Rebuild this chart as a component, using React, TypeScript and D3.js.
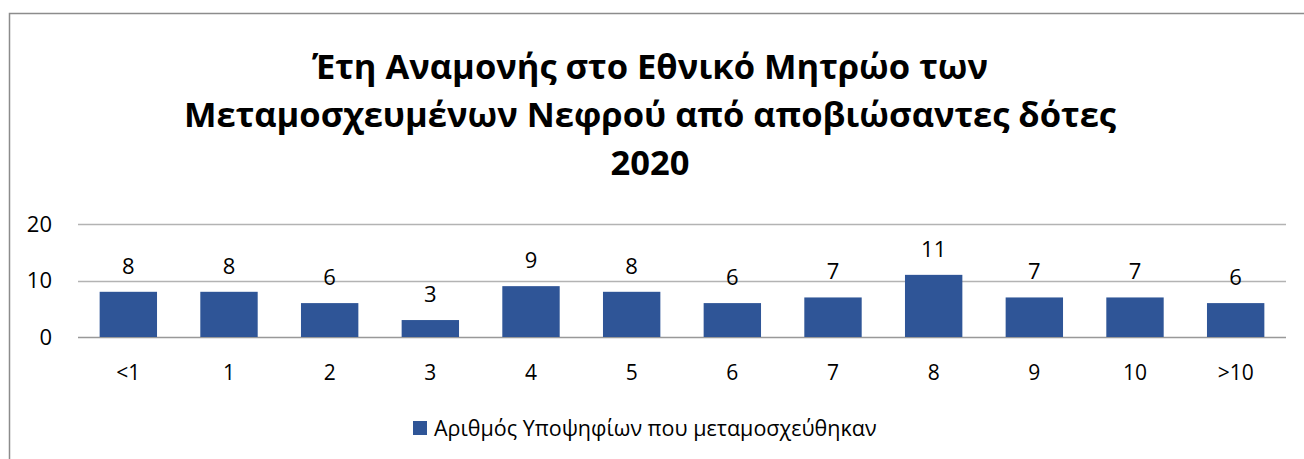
import { useEffect, useRef } from "react";
import * as d3 from "d3";

// Έτη αναμονής -> αριθμός υποψηφίων που μεταμοσχεύθηκαν
const categories = ["<1", "1", "2", "3", "4", "5", "6", "7", "8", "9", "10", ">10"];
const values = [8, 8, 6, 3, 9, 8, 6, 7, 11, 7, 7, 6];
const yTicks = [0, 10, 20];
const titleLines = [
  "Έτη Αναμονής στο Εθνικό Μητρώο των",
  "Μεταμοσχευμένων Νεφρού από αποβιώσαντες δότες",
  "2020",
];
const seriesName = "Αριθμός Υποψηφίων που μεταμοσχεύθηκαν";

const width = 1304;
const height = 459;
const font = "'Open Sans', 'Noto Sans', sans-serif";
const barColor = "#2F5597";

export default function App() {
  const ref = useRef<SVGSVGElement>(null);

  useEffect(() => {
    const svg = d3.select(ref.current);
    svg.selectAll("*").remove();

    const margin = { left: 78, right: 18, top: 224, bottom: 122 };

    const x = d3.scaleBand()
      .domain(categories)
      .range([margin.left, width - margin.right])
      .paddingInner(0.43)
      .paddingOuter(0.215);

    const y = d3.scaleLinear()
      .domain([0, 20])
      .range([height - margin.bottom, margin.top]);

    // outer frame
    svg.append("rect")
      .attr("x", 9.5).attr("y", 13.5)
      .attr("width", width + 20).attr("height", height + 20)
      .attr("fill", "white")
      .attr("stroke", "#8c8c8c")
      .attr("stroke-width", 1.5);

    // title
    svg.append("g")
      .selectAll("text")
      .data(titleLines)
      .join("text")
      .attr("x", 650)
      .attr("y", (d, i) => 79 + i * 48)
      .attr("text-anchor", "middle")
      .attr("font-family", font)
      .attr("font-weight", "bold")
      .attr("font-size", 34.5)
      .attr("fill", "#000")
      .text(d => d);

    // grid
    svg.append("g")
      .selectAll("line")
      .data(yTicks)
      .join("line")
      .attr("x1", margin.left)
      .attr("x2", width - margin.right)
      .attr("y1", d => Math.round(y(d)) + 0.5)
      .attr("y2", d => Math.round(y(d)) + 0.5)
      .attr("stroke", d => d === 0 ? "#999" : "#b3b3b3")
      .attr("stroke-width", 1.5);

    // y labels
    svg.append("g")
      .selectAll("text")
      .data(yTicks)
      .join("text")
      .attr("x", 52)
      .attr("y", d => y(d))
      .attr("dy", "0.35em")
      .attr("text-anchor", "end")
      .attr("font-family", font)
      .attr("font-size", 22)
      .attr("fill", "#000")
      .text(d => d);

    // bars
    svg.append("g")
      .selectAll("rect")
      .data(values)
      .join("rect")
      .attr("x", (d, i) => x(categories[i])!)
      .attr("y", d => y(d))
      .attr("width", x.bandwidth())
      .attr("height", d => y(0) - y(d))
      .attr("fill", barColor);

    // value labels
    svg.append("g")
      .selectAll("text")
      .data(values)
      .join("text")
      .attr("x", (d, i) => x(categories[i])! + x.bandwidth() / 2)
      .attr("y", d => y(d) - 18)
      .attr("text-anchor", "middle")
      .attr("font-family", font)
      .attr("font-size", 22)
      .attr("fill", "#000")
      .text(d => d);

    // x labels
    svg.append("g")
      .selectAll("text")
      .data(categories)
      .join("text")
      .attr("x", d => x(d)! + x.bandwidth() / 2)
      .attr("y", 380)
      .attr("text-anchor", "middle")
      .attr("font-family", font)
      .attr("font-size", 21)
      .attr("fill", "#000")
      .text(d => d);

    // legend
    const legend = svg.append("g");
    legend.append("rect")
      .attr("x", 413).attr("y", 421)
      .attr("width", 14).attr("height", 14)
      .attr("fill", barColor);
    legend.append("text")
      .attr("x", 434)
      .attr("y", 428)
      .attr("dy", "0.35em")
      .attr("font-family", font)
      .attr("font-size", 21.5)
      .attr("fill", "#000")
      .text(seriesName);
  }, []);

  return (
    <svg
      ref={ref}
      width={width}
      height={height}
      style={{ position: "absolute", left: 0, top: 0, background: "white" }}
    />
  );
}
